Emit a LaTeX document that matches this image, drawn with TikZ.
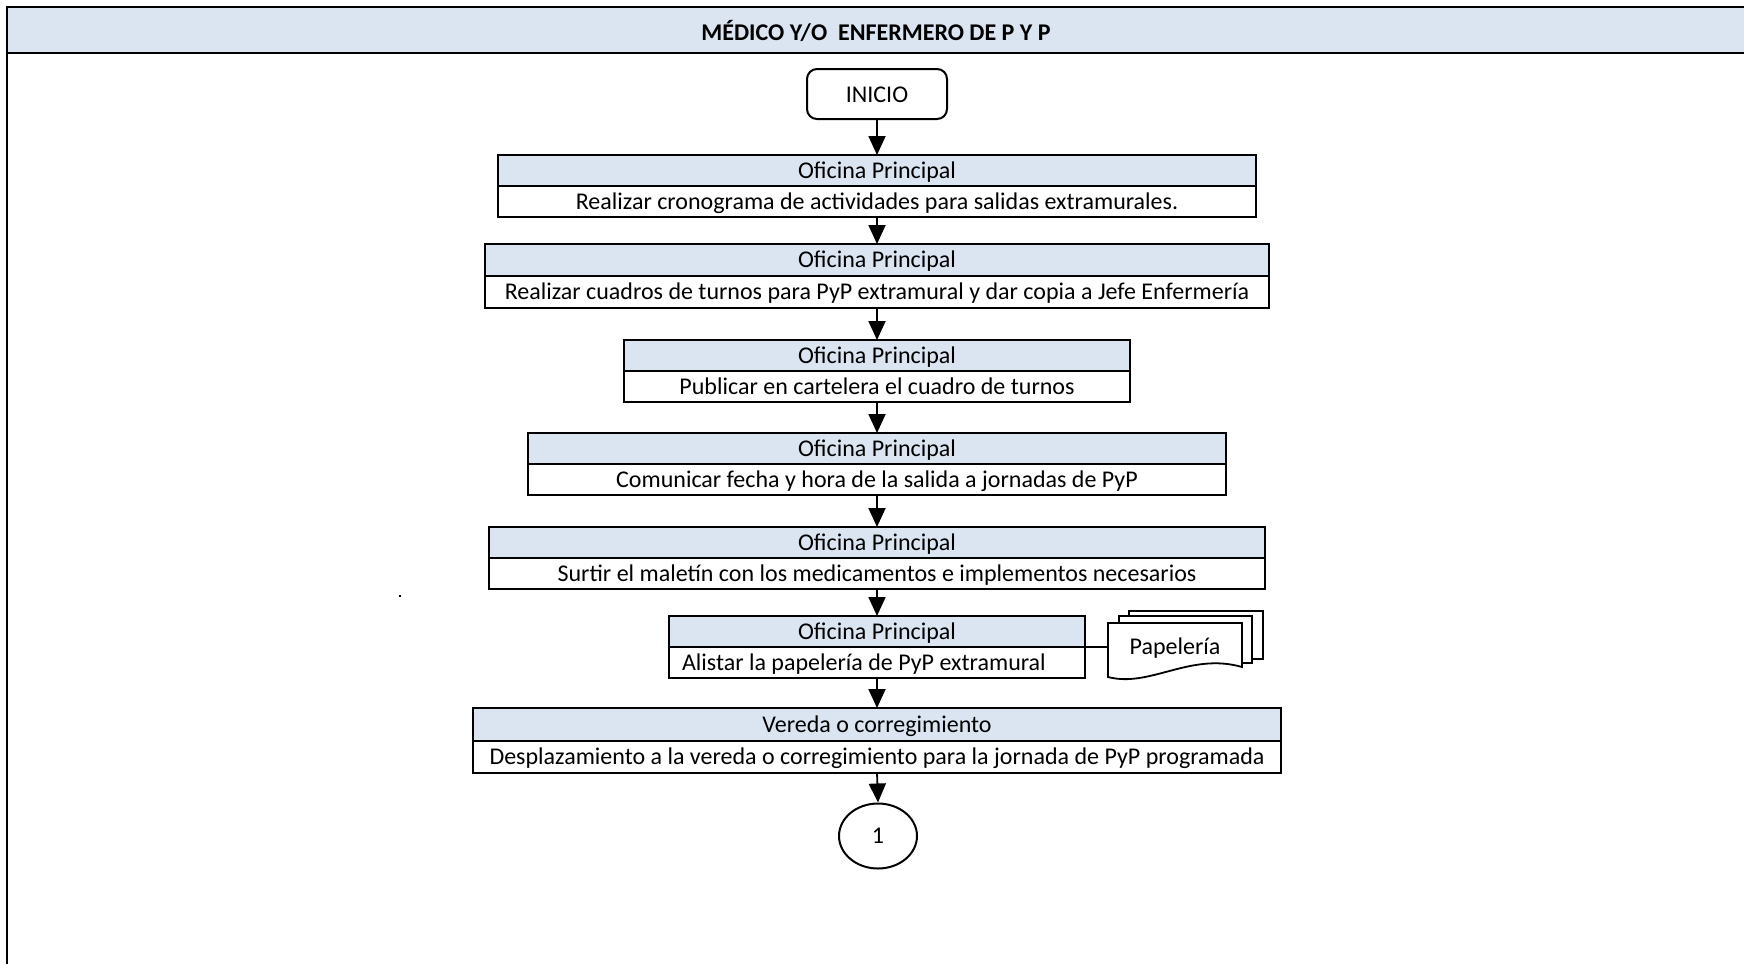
\documentclass[tikz,border=0pt]{standalone}
\usepackage{fontspec}
\setmainfont{Carlito}
\usetikzlibrary{arrows.meta,shapes.geometric}
\definecolor{bandblue}{HTML}{DBE5F1}

\begin{document}
\begin{tikzpicture}[x=0.5pt,y=-0.5pt,
  txt/.style={font=\fontsize{12}{14}\selectfont},
  rowtxt/.style={txt,text height=9pt,text depth=1pt},
  hdr/.style={rowtxt,fill=bandblue,minimum height=15pt,inner sep=0pt,anchor=north},
  bodyrow/.style={rowtxt,fill=white,minimum height=15pt,inner sep=0pt,anchor=north},
  flow/.style={-{Triangle[length=9.5pt,width=8.5pt]},line width=0.9pt},
  thin/.style={line width=0.9pt},
  outline/.style={line width=1pt}]
\useasboundingbox (0,0) rectangle (1744,964);

% lane frame with title band
\fill[bandblue] (7,7) rectangle (1744,53);
\draw[line width=1pt] (1744,7) -- (7,7) -- (7,964);
\draw[line width=1pt] (7,53) -- (1744,53);
\node[font=\bfseries\fontsize{12}{14}\selectfont] (title) at (876,31) {MÉDICO Y/O\ \ ENFERMERO DE P Y P};

% start terminal
\node[rowtxt,draw,line width=1pt,rounded corners=5pt,minimum width=70pt,minimum height=25pt,inner sep=0pt] (inicio) at (877,94) {INICIO};

% process boxes: header row + body row
\node[hdr,minimum width=378.5pt] (b1h) at (877,155) {Oficina Principal};
\node[bodyrow,minimum width=378.5pt] (b1b) at (b1h.south) {Realizar cronograma de actividades para salidas extramurales.};

\node[hdr,minimum width=391.5pt,minimum height=15.5pt] (b2h) at (877,244) {Oficina Principal};
\node[bodyrow,minimum width=391.5pt,minimum height=15.5pt] (b2b) at (b2h.south) {Realizar cuadros de turnos para PyP extramural y dar copia a Jefe Enfermería};

\node[hdr,minimum width=252.5pt] (b3h) at (877,340) {Oficina Principal};
\node[bodyrow,minimum width=252.5pt] (b3b) at (b3h.south) {Publicar en cartelera el cuadro de turnos};

\node[hdr,minimum width=348.5pt] (b4h) at (877,433) {Oficina Principal};
\node[bodyrow,minimum width=348.5pt] (b4b) at (b4h.south) {Comunicar fecha y hora de la salida a jornadas de PyP};

\node[hdr,minimum width=387.5pt] (b5h) at (877,527) {Oficina Principal};
\node[bodyrow,minimum width=387.5pt] (b5b) at (b5h.south) {Surtir el maletín con los medicamentos e implementos necesarios};

\node[hdr,minimum width=208pt] (b6h) at (877,616) {Oficina Principal};
\node[bodyrow,minimum width=208pt] (b6b) at (b6h.south) {\hspace*{6.5pt}\makebox[195pt][l]{Alistar la papelería de PyP extramural}\hspace*{6.5pt}};

\node[hdr,minimum width=404pt,minimum height=16pt] (b7h) at (877,708) {Vereda o corregimiento};
\node[bodyrow,minimum width=404pt,minimum height=15.5pt] (b7b) at (b7h.south) {Desplazamiento a la vereda o corregimiento para la jornada de PyP programada};

% box outlines and row dividers
\foreach \b in {b1,b2,b3,b4,b5,b6,b7}{
  \draw[outline] (\b h.north west) rectangle (\b b.south east);
  \draw[thin] (\b h.south west) -- (\b h.south east);
}

% off-page connector
\node[txt,draw,line width=1pt,ellipse,minimum width=39pt,minimum height=32.5pt,inner sep=0pt] (c1) at (878,836) {1};

% multi-document symbol
\draw[thin] (1129,616) -- (1129,611) -- (1263,611) -- (1263,659) -- (1252,659);
\draw[thin] (1119,623) -- (1119,616) -- (1252,616) -- (1252,663) -- (1242,663);
\draw[thin,fill=white] (1108,623) -- (1242,623) -- (1242,667)
  .. controls (1190,652) and (1150,688) .. (1108,677) -- cycle;
\node[txt,minimum width=67pt,minimum height=26pt,inner sep=0pt] (pap) at (1175,648) {Papelería};

% flow
\draw[flow] (inicio.south) -- (b1h.north);
\draw[flow] (b1b.south) -- (b2h.north);
\draw[flow] (b2b.south) -- (b3h.north);
\draw[flow] (b3b.south) -- (b4h.north);
\draw[flow] (b4b.south) -- (b5h.north);
\draw[flow] (b5b.south) -- (b6h.north);
\draw[flow] (b6b.south) -- (b7h.north);
\draw[flow] (b7b.south) -- (c1.north);
\draw[thin] (b6h.south east) -- (b6h.south east -| pap.west);

% stray mark
\fill (399,595) rectangle (401,597);
\end{tikzpicture}
\end{document}
